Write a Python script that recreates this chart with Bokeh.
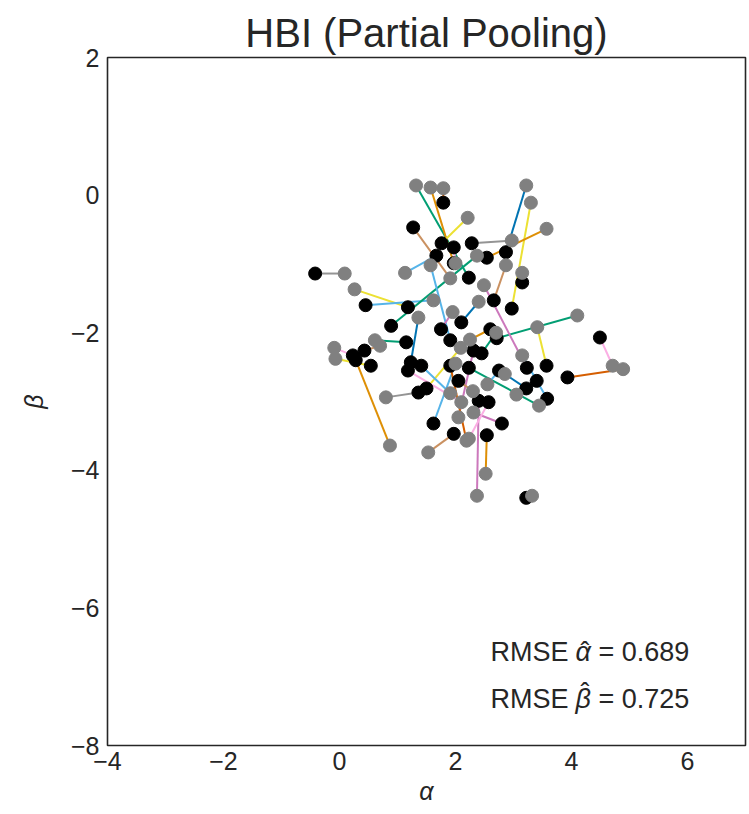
from bokeh.plotting import figure
from bokeh.models import Range1d, Label, FixedTicker, ColumnDataSource
from bokeh.embed import file_html
from bokeh.resources import INLINE

# ---- data ----
black_alpha = [-0.42, 1.18, 0.45, 0.89, 0.23, 0.43, 0.28, 0.54, 1.15, 1.36,
               1.50, 1.62, 1.97, 1.23, 1.41, 1.18, 1.91, 2.31, 1.91, 2.23,
               2.40, 2.54, 3.22, 4.49, 3.93, 3.58, 2.71, 3.57, 3.23, 3.22,
               2.80, 2.57, 2.97, 2.87, 2.54, 2.28, 3.15, 2.66, 1.79, 2.23,
               1.97, 1.27, 1.76, 1.67, 1.97, 2.10, 2.45, 2.05, 2.75, 1.75,
               2.60, 3.40]
black_beta = [-1.14, -1.63, -1.60, -1.90, -2.33, -2.26, -2.40, -2.48, -2.14, -2.87,
              -2.81, -3.32, -3.47, -2.43, -2.48, -2.55, -2.11, -2.26, -2.48, -2.51,
              -2.99, -3.49, -4.40, -2.07, -2.65, -2.96, -2.08, -2.48, -2.51, -2.81,
              -3.32, -3.01, -1.65, -0.83, -0.91, -0.70, -1.27, -1.53, -0.11, -1.20,
              -0.99, -0.47, -0.70, -0.88, -0.76, -1.85, -2.30, -2.70, -2.55, -1.95,
              -1.95, -2.70]
gray_alpha = [0.09, 0.26, 1.62, 2.37, -0.09, 0.70, 0.87, -0.07, 0.61, 0.80,
              2.09, 2.00, 1.53, 1.36, 1.91, 2.10, 1.57, 2.05, 2.19, 3.44,
              2.37, 2.52, 3.32, 4.71, 4.89, 3.15, 4.10, 3.41, 2.49, 2.85,
              2.31, 2.23, 3.30, 3.22, 3.57, 2.97, 3.15, 2.87, 1.79, 1.32,
              1.57, 1.91, 2.21, 1.13, 2.00, 2.40, 2.70, 2.30, 2.55, 1.95,
              2.25, 3.05]
gray_beta = [-1.14, -1.37, -1.53, -0.88, -2.22, -2.19, -3.64, -2.38, -2.11, -2.94,
             -2.22, -2.45, -3.74, -1.78, -2.88, -3.01, -1.02, -3.23, -3.57, -3.06,
             -4.37, -4.05, -4.37, -2.48, -2.53, -2.33, -1.75, -1.92, -1.31, -2.60,
             -3.16, -3.54, -0.11, 0.14, -0.49, -0.66, -1.13, -1.02, 0.10, 0.14,
             0.11, -1.21, -0.33, -1.13, -0.99, -1.55, -2.00, -2.85, -2.75, -1.70,
             -2.10, -2.90]

x_ticks = [-4, -2, 0, 2, 4, 6]
x_tick_labels = ["\u22124", "\u22122", "0", "2", "4", "6"]
y_ticks = [-8, -6, -4, -2, 0, 2]
y_tick_labels = ["\u22128", "\u22126", "\u22124", "\u22122", "0", "2"]

rmse_alpha = "0.689"
rmse_beta = "0.725"

# ---- styles ----
palette = ["#0173b2", "#de8f05", "#029e73", "#d55e00", "#cc78bc",
           "#ca9161", "#fbafe4", "#949494", "#ece133", "#56b4e9"]
color_seq = [7, 8, 9, 2, 6, 5, 1, 8, 2, 7, 8, 9, 5, 0, 9, 6, 9, 4, 3, 2,
             4, 1, 7, 6, 3, 9, 2, 8, 4, 0, 4, 6, 8, 0, 1, 7, 3, 5, 3, 2,
             1, 5, 8, 9, 6, 0, 2, 5, 9, 4, 1, 3]
line_colors = [palette[i] for i in color_seq]

FONT = "Liberation Sans"
INK = "#262626"

p = figure(width=749, height=814, x_range=Range1d(-4, 7), y_range=Range1d(-8, 2),
           output_backend="svg", toolbar_location=None,
           min_border_left=107, min_border_right=4, min_border_top=57,
           min_border_bottom=69, title="HBI (Partial Pooling)")

p.title.text_font = FONT
p.title.text_font_size = "40px"
p.title.text_font_style = "normal"
p.title.text_color = INK
p.title.align = "center"
p.title.standoff = 5

p.background_fill_color = "white"
p.border_fill_color = "white"
p.outline_line_color = INK
p.outline_line_width = 1.6
p.grid.visible = False

seg = ColumnDataSource(dict(x0=black_alpha, y0=black_beta, x1=gray_alpha,
                            y1=gray_beta, c=line_colors))
p.segment("x0", "y0", "x1", "y1", source=seg, line_color="c", line_width=2)
p.scatter(black_alpha, black_beta, size=13, color="black")
p.scatter(gray_alpha, gray_beta, size=13, color="#808080")

for ax, ticks, labels in ((p.xaxis[0], x_ticks, x_tick_labels),
                          (p.yaxis[0], y_ticks, y_tick_labels)):
    ax.ticker = FixedTicker(ticks=ticks)
    ax.major_label_overrides = {t: l for t, l in zip(ticks, labels)}
    ax.major_tick_out = 0
    ax.major_tick_in = 0
    ax.minor_tick_out = 0
    ax.minor_tick_in = 0
    ax.axis_line_color = None
    ax.major_label_text_font = FONT
    ax.major_label_text_font_size = "25px"
    ax.major_label_text_color = INK
    ax.axis_label_text_font = FONT
    ax.axis_label_text_font_size = "25px"
    ax.axis_label_text_font_style = "italic"
    ax.axis_label_text_color = INK

p.xaxis.axis_label = "\u03b1"
p.yaxis.axis_label = "\u03b2"
p.xaxis.major_label_standoff = 6
p.yaxis.major_label_standoff = 8
p.xaxis.axis_label_standoff = 4
p.yaxis.axis_label_standoff = 20

SZ = "27px"

def rmse_line(sym, val, y, hat_lift):
    p.add_layout(Label(x=383, y=y, x_units="screen", y_units="screen", text="RMSE",
                       text_font=FONT, text_font_size=SZ, text_color=INK))
    p.add_layout(Label(x=468, y=y, x_units="screen", y_units="screen",
                       text=sym, text_font=FONT, text_font_size=SZ,
                       text_font_style="italic", text_color=INK))
    p.add_layout(Label(x=473, y=y + hat_lift, x_units="screen", y_units="screen",
                       text="\u02c6", text_font=FONT, text_font_size=SZ,
                       text_color=INK))
    p.add_layout(Label(x=491, y=y, x_units="screen", y_units="screen",
                       text="= " + val, text_font=FONT, text_font_size=SZ,
                       text_color=INK))

rmse_line("\u03b1", rmse_alpha, 79, 0)
rmse_line("\u03b2", rmse_beta, 32, 6)

open("out.html", "w").write(file_html(p, INLINE))
